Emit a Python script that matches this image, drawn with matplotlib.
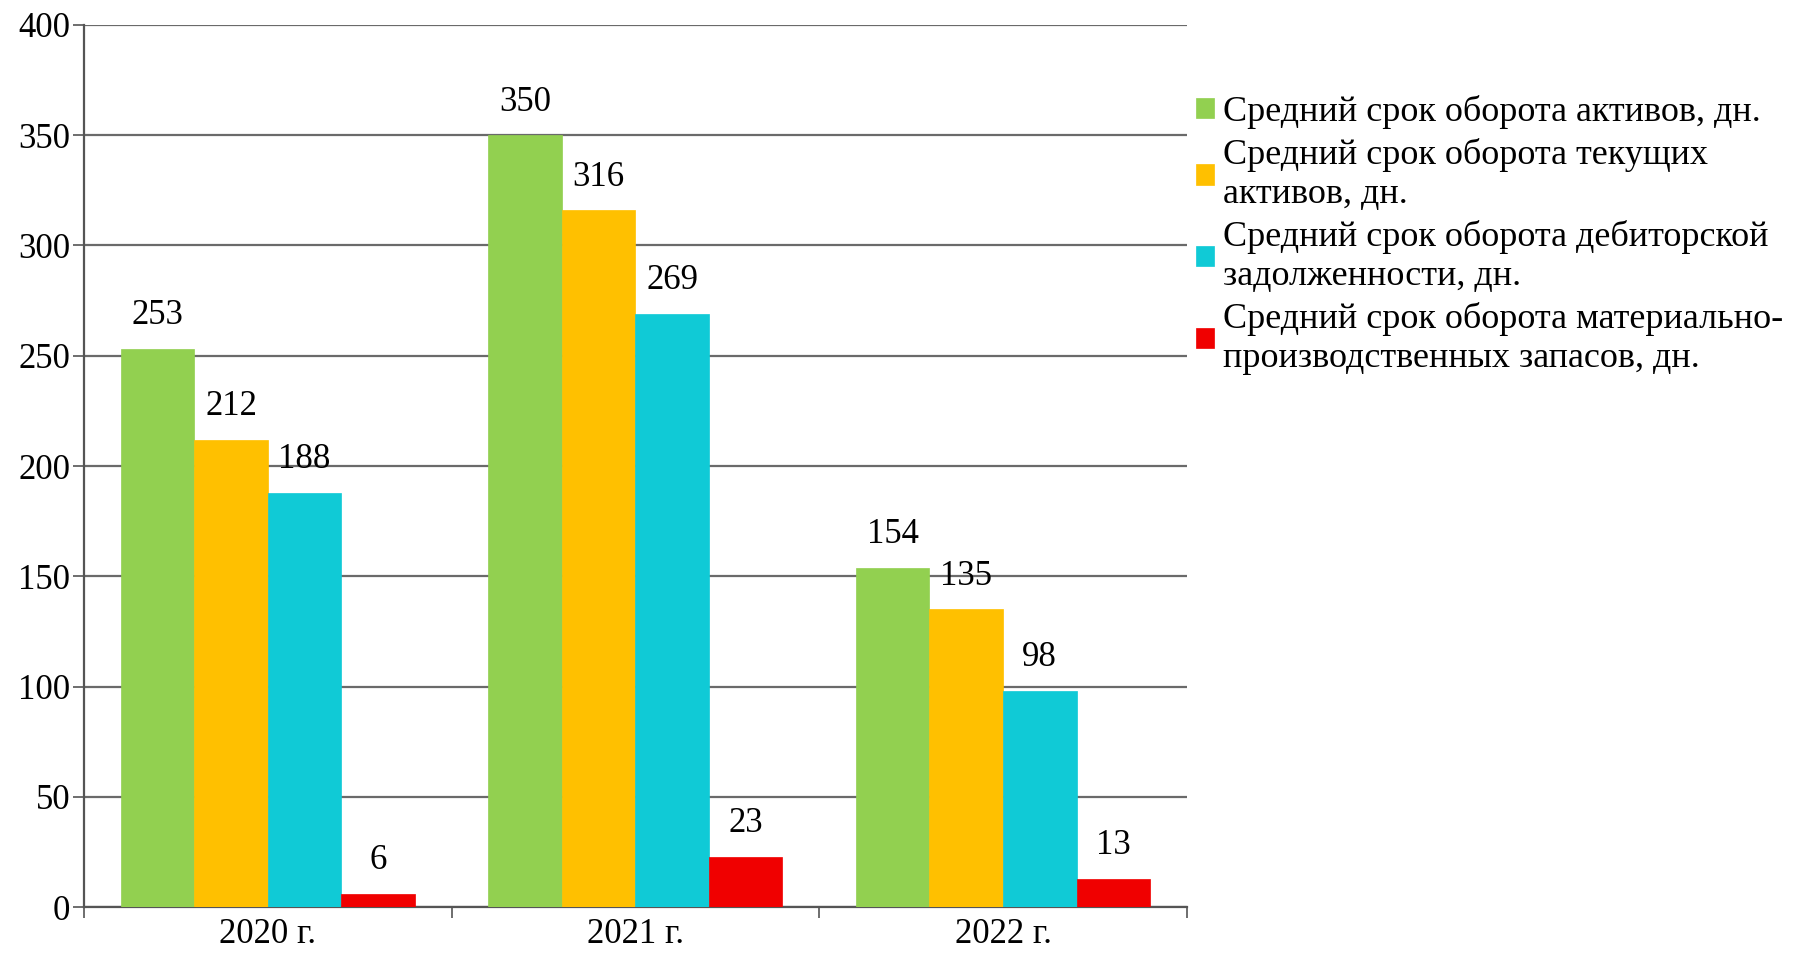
import matplotlib
matplotlib.use('Agg')
import matplotlib.pyplot as plt
import numpy as np

plt.rcParams['font.family'] = ['Liberation Serif', 'DejaVu Serif']

years = ['2020 г.', '2021 г.', '2022 г.']
series_names = ['Средний срок оборота активов, дн.',
                'Средний срок оборота текущих\nактивов, дн.',
                'Средний срок оборота дебиторской\nзадолженности, дн.',
                'Средний срок оборота материально-\nпроизводственных запасов, дн.']
assets = [253, 350, 154]
current_assets = [212, 316, 135]
receivables = [188, 269, 98]
inventories = [6, 23, 13]
colors = ['#92d050', '#ffc000', '#10cad6', '#f00000']

data = [assets, current_assets, receivables, inventories]

fig = plt.figure(figsize=(18.02, 9.57), dpi=100)
ax = fig.add_axes([0.0466, 0.052, 0.612, 0.922])

x = np.arange(len(years))
w = 0.2
for i, vals in enumerate(data):
    pos = x - 0.3 + i * w
    bars = ax.bar(pos, vals, w, color=colors[i], label=series_names[i], zorder=3,
                  edgecolor=colors[i], linewidth=0.5)
    for b, v in zip(bars, vals):
        ax.annotate(str(v), (b.get_x() + b.get_width() / 2, v), xytext=(0, 12),
                    textcoords='offset points', ha='center', va='bottom', fontsize=25)

ax.set_ylim(0, 400)
ax.set_xlim(-0.5, 2.5)
ax.set_yticks(np.arange(0, 401, 50))
ax.yaxis.grid(True, color='#6a6a6a', linewidth=1.6, zorder=0)
ax.set_xticks(x)
ax.set_xticklabels(years)
ax.set_xticks([-0.5, 0.5, 1.5, 2.5], minor=True)
ax.tick_params(axis='x', which='major', length=0, labelsize=25, pad=8)
ax.tick_params(axis='x', which='minor', length=8, width=1.2, color='#555555')
ax.tick_params(axis='y', length=8, width=1.2, color='#555555', labelsize=25, pad=2)
for s in ['top', 'right']:
    ax.spines[s].set_visible(False)
for s in ['left', 'bottom']:
    ax.spines[s].set_color('#555555')
    ax.spines[s].set_linewidth(1.6)

leg = ax.legend(loc='upper left', bbox_to_anchor=(0.995, 0.937), frameon=False,
                prop={'family': 'Liberation Serif', 'size': 26},
                handlelength=0.5, handleheight=0.5, handletextpad=0.25, labelspacing=0.26,
                borderaxespad=0.0)
for t in leg.get_texts():
    t.set_linespacing(1.22)

plt.savefig('out.png', dpi=100)
